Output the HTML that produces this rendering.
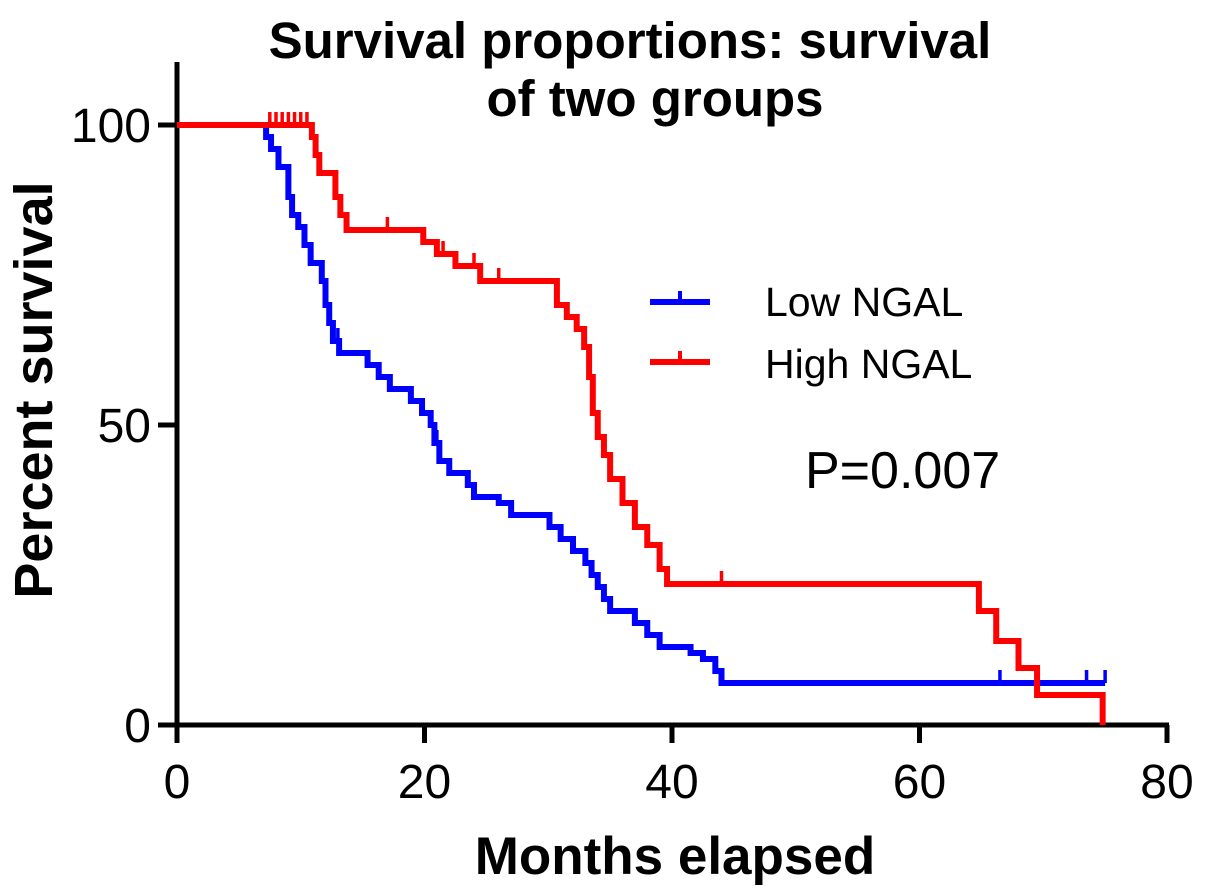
<!DOCTYPE html>
<html><head><meta charset="utf-8"><style>
body{margin:0;background:#fff}
svg{display:block;font-family:"Liberation Sans",Arial,sans-serif}
</style></head><body>
<svg id="c" width="1205" height="894">
<text x="630" y="58" text-anchor="middle" font-size="51" font-weight="bold">Survival proportions: survival</text>
<text x="655" y="116" text-anchor="middle" font-size="51" font-weight="bold">of two groups</text>
<text transform="translate(52,390) rotate(-90)" text-anchor="middle" font-size="54" font-weight="bold">Percent survival</text>
<text x="675" y="874" text-anchor="middle" font-size="53" font-weight="bold">Months elapsed</text>
<g id="axes"></g>
<g id="series"></g>
<g>
<line x1="650" y1="302" x2="710" y2="302" stroke="#0000ff" stroke-width="6"/><line x1="680" y1="291" x2="680" y2="302" stroke="#0000ff" stroke-width="4"/>
<text x="765" y="316" font-size="41">Low NGAL</text>
<line x1="650" y1="362" x2="710" y2="362" stroke="#ff0000" stroke-width="6"/><line x1="680" y1="351" x2="680" y2="362" stroke="#ff0000" stroke-width="4"/>
<text x="765" y="378" font-size="41">High NGAL</text>
</g>
<text x="805" y="488" font-size="52">P=0.007</text>
</svg>
<script>
const xTicks=[0,20,40,60,80];
const yTicks=[0,50,100];
const lowT=[0,7.2,7.6,8.2,9,9.3,9.8,10.3,10.8,11.7,12,12.3,12.6,13.1,15.4,16.3,17.2,18.9,19.8,20.5,20.8,21.2,22,23.5,24,26,27,30.1,31,32,33,33.5,34,34.5,35,37,38,39,41.5,42.5,43.5,44];
const lowS=[100,98,96,93,88,85,83,80,77,74,70,67,64,62,60,58,56,54,52,50,47,44,42,40,38,37,35,33,31,29,27,25,23,21,19,17,15,13,12,11,9,7];
const lowEnd=75;
const lowCens=[13,21,66.5,73.5,75];
const highT=[0,10.9,11.2,11.5,12.8,13.2,13.7,19.9,21,22.5,24.5,30.7,31.5,32.3,32.9,33.3,33.6,34,34.5,35,36,37,38,39,39.6,64.8,66.2,68,69.5,74.8];
const highS=[100,98,95,92,88,85,82.5,80.5,78.5,76.5,74,70,68,66,63,58,52,48,45,41,37,33,30,26,23.5,19,14,9.5,5,0];
const highEnd=74.8;
const highCens=[7.5,8,8.5,9,9.5,10,10.5,17,21.5,24,26,31.5,44];
const X=t=>177+t*12.375, Y=s=>725-s*6;
const NS='http://www.w3.org/2000/svg';
function mk(tag,at,parent){const e=document.createElementNS(NS,tag);for(const k in at)e.setAttribute(k,at[k]);parent.appendChild(e);return e;}
const ax=document.getElementById('axes');
let l=mk('line',{x1:175,y1:725,x2:1169,y2:725,stroke:'#000','stroke-width':5},ax);


l=mk('line',{x1:177,y1:62,x2:177,y2:727,stroke:'#000','stroke-width':5},ax);


xTicks.forEach(v=>{mk('line',{x1:X(v),y1:725,x2:X(v),y2:743,stroke:'#000','stroke-width':5},ax);
const t=mk('text',{x:X(v),y:798,'text-anchor':'middle','font-size':48},ax);t.textContent=v;

});
yTicks.forEach(v=>{mk('line',{x1:158,y1:Y(v),x2:177,y2:Y(v),stroke:'#000','stroke-width':5},ax);
const t=mk('text',{x:151,y:Y(v)+17,'text-anchor':'end','font-size':48},ax);t.textContent=v;

});
const sg=document.getElementById('series');
function draw(T,S,end,cens,col,name){
 let d='M'+X(T[0])+','+Y(S[0]);
 for(let i=1;i<T.length;i++){d+=' H'+X(T[i])+' V'+Y(S[i]);}
 d+=' H'+X(end);
 const p=mk('path',{d:d,fill:'none',stroke:col,'stroke-width':6},sg);
 
 
 cens.forEach(c=>{let s=S[0];for(let i=0;i<T.length;i++)if(T[i]<=c)s=S[i];
  const m=mk('line',{x1:X(c),y1:Y(s),x2:X(c),y2:Y(s)-13,stroke:col,'stroke-width':3.5},sg);
  
  });
}
draw(lowT,lowS,lowEnd,lowCens,'#0000ff','low-ngal');
draw(highT,highS,highEnd,highCens,'#ff0000','high-ngal');
</script>
</body></html>
